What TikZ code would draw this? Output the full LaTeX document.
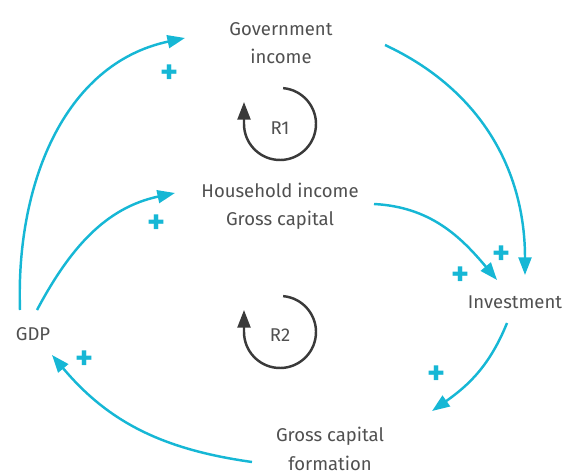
\documentclass[tikz,border=0pt]{standalone}
\usepackage{fontspec}
\setmainfont{Fira Sans}
\usepackage{tikz}
\usetikzlibrary{arrows.meta}
\definecolor{linkcyan}{RGB}{22,183,213}
\definecolor{labelgray}{RGB}{80,80,80}
\definecolor{loopdark}{RGB}{58,58,58}
\tikzset{
  var/.style={text=labelgray, font=\fontsize{15.8}{24.3}\selectfont, align=center, inner sep=2pt},
  link/.style={draw=linkcyan, line width=2.1pt, -{Triangle[length=15pt,width=11pt]}},
  sign/.style={text=linkcyan, font=\fontsize{29}{29}\selectfont\bfseries, inner sep=0pt},
  loopline/.style={draw=loopdark, line width=2.1pt, -{Triangle[length=15pt,width=11pt]}}
}

\begin{document}
\begin{tikzpicture}[x=0.03cm,y=0.03cm]
\useasboundingbox (0,0) rectangle (563,471);
\node[var] (gov) at (281,428) {Government\\income};
\node[var] (hh) at (280,265) {Household income\\Gross capital};
\node[var] (inv) at (515,169) {Investment};
\node[var] (gdp) at (33,137) {GDP};
\node[var] (gcf) at (330,22) {Gross capital\\formation};
\node[var] (r1) at (280,343) {R1};
\node[var] (r2) at (280,136) {R2};
% links
\draw[link] ([shift={(-13,24)}]gdp.center) to[out=92,in=192] ([shift={(-96,5)}]gov.center);
\draw[link] ([shift={(4,24)}]gdp.center) to[out=62,in=192] ([shift={(-105,13)}]hh.center);
\draw[link] ([shift={(104,-2)}]gov.center) to[out=-25,in=90] ([shift={(10,27)}]inv.center);
\draw[link] ([shift={(94,2)}]hh.center) to[out=-3,in=130] ([shift={(-18,22)}]inv.center);
\draw[link] ([shift={(-8,-21)}]inv.center) to[out=-112,in=35] ([shift={(102,38)}]gcf.center);
\draw[link] ([shift={(-78,-13)}]gcf.center) to[out=172,in=-50] ([shift={(19,-21)}]gdp.center);
% signs
\node[sign] (s1) at (170,397) {+};
\node[sign] (s2) at (157,247) {+};
\node[sign] (s3) at (502,216) {+};
\node[sign] (s4) at (461,195) {+};
\node[sign] (s5) at (437,96) {+};
\node[sign] (s6) at (85,111) {+};
% loops
\draw[loopline] (r1.center) ++(0,4) ++(85:36) arc[start angle=85,end angle=-180,radius=36] -- ++(0,22);
\draw[loopline] (r2.center) ++(0,3) ++(85:36) arc[start angle=85,end angle=-180,radius=36] -- ++(0,22);
\end{tikzpicture}
\end{document}
